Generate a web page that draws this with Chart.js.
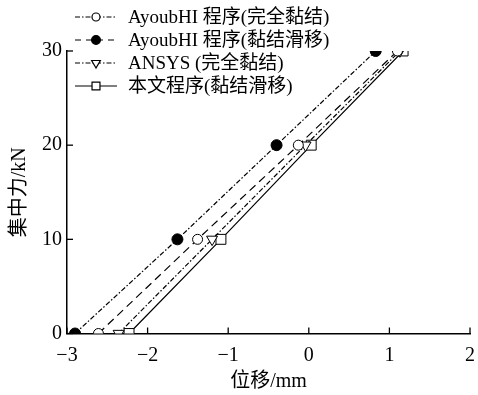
<!DOCTYPE html>
<html>
<head>
<meta charset="utf-8">
<script src="https://cdn.jsdelivr.net/npm/chart.js@4.4.0/dist/chart.umd.min.js"></script>
<style>
  html, body { margin: 0; padding: 0; background: #fff; }
  #wrap { width: 478px; height: 395px; }
</style>
</head>
<body>
<div id="wrap"><canvas id="loadChart"></canvas></div>
<script>
// load levels (kN) and displacement (mm)
let loads = [0, 10, 20, 30];
let ayoubFull = [-2.61, -1.38, -0.13, 1.10];
let ayoubSlip = [-2.90, -1.63, -0.40, 0.83];
let ansysFull = [-2.36, -1.20, -0.04, 1.13];
let ourSlip = [-2.23, -1.09, 0.03, 1.17];
let seriesNames = ['AyoubHI 程序(完全黏结)', 'AyoubHI 程序(黏结滑移)', 'ANSYS (完全黏结)', '本文程序(黏结滑移)'];
let xTicks = [-3, -2, -1, 0, 1, 2];
let yTicks = [0, 10, 20, 30];

const FONT = '"Liberation Serif", "Noto Sans CJK SC", serif';

function toPoints(xs) {
    return xs.map((x, i) => ({ x: x, y: loads[i] }));
}

function fmt(v) {
    return v < 0 ? '\u2212' + (-v) : String(v);
}

// ticks point into the plot, like the original
const innerTicks = {
    id: 'innerTicks',
    afterDraw(chart) {
        const ctx = chart.ctx;
        const xs = chart.scales.x, ys = chart.scales.y;
        ctx.save();
        ctx.strokeStyle = '#000';
        ctx.lineWidth = 1.3;
        xTicks.forEach(v => {
            const px = xs.getPixelForValue(v);
            ctx.beginPath();
            ctx.moveTo(px, ys.bottom);
            ctx.lineTo(px, ys.bottom - 6);
            ctx.stroke();
        });
        yTicks.forEach(v => {
            const py = ys.getPixelForValue(v);
            ctx.beginPath();
            ctx.moveTo(xs.left, py);
            ctx.lineTo(xs.left + 6, py);
            ctx.stroke();
        });
        ctx.restore();
    }
};

// legend: short line sample with the marker in its middle
const sampleLegend = {
    id: 'sampleLegend',
    afterDraw(chart, args, opts) {
        const ctx = chart.ctx;
        ctx.save();
        chart.data.datasets.forEach((ds, i) => {
            const y = opts.top + i * opts.rowGap;
            ctx.strokeStyle = '#000';
            ctx.lineWidth = 1.2;
            ctx.setLineDash(opts.dashes[i]);
            ctx.beginPath();
            ctx.moveTo(opts.x0, y);
            ctx.lineTo(opts.x1, y);
            ctx.stroke();
            ctx.setLineDash([]);
            ctx.fillStyle = ds.pointBackgroundColor;
            ctx.strokeStyle = '#000';
            Chart.helpers.drawPoint(ctx, {
                pointStyle: ds.pointStyle,
                radius: ds.pointRadius * 0.8,
                rotation: ds.pointRotation || 0,
                borderWidth: 1
            }, (opts.x0 + opts.x1) / 2, y);
            ctx.fillStyle = '#000';
            ctx.font = opts.fontSize + 'px ' + FONT;
            ctx.textBaseline = 'middle';
            ctx.textAlign = 'left';
            ctx.fillText(ds.label, opts.textX, y + 1);
        });
        ctx.restore();
    }
};

function makeSet(label, xs, style, radius, fill, dash, rot) {
    return {
        label: label,
        data: toPoints(xs),
        borderColor: '#000',
        borderWidth: 1.2,
        borderDash: dash,
        pointStyle: style,
        pointRadius: radius,
        pointRotation: rot || 0,
        pointBackgroundColor: fill,
        pointBorderColor: '#000',
        pointBorderWidth: 1,
        showLine: true,
        fill: false,
        tension: 0
    };
}

const ctx = document.getElementById('loadChart').getContext('2d');
const chart = new Chart(ctx, {
    type: 'scatter',
    data: {
        datasets: [
            makeSet(seriesNames[0], ayoubFull, 'circle', 5, '#fff', [8, 5]),
            makeSet(seriesNames[1], ayoubSlip, 'circle', 5.5, '#000', [5, 2, 1.5, 2]),
            makeSet(seriesNames[2], ansysFull, 'triangle', 6.3, '#fff', [5, 2, 1.5, 2], 180),
            makeSet(seriesNames[3], ourSlip, 'rect', 7, '#fff', [])
        ]
    },
    options: {
        responsive: true,
        maintainAspectRatio: false,
        animation: false,
        layout: { padding: { top: 51, right: 3, left: 0, bottom: 0 } },
        plugins: {
            legend: { display: false },
            tooltip: { enabled: false },
            sampleLegend: {
                x0: 75, x1: 117, textX: 128, top: 17, rowGap: 23, fontSize: 19,
                dashes: [[5, 2, 1.5, 2], [6, 5], [5, 2, 1.5, 2], []]
            }
        },
        scales: {
            x: {
                type: 'linear',
                min: -3, max: 2,
                afterFit: s => { s.height = 61.5; s.paddingRight = 0; s.paddingLeft = 0; },
                grid: { display: false, drawTicks: false },
                border: { display: true, color: '#000', width: 1.5 },
                ticks: {
                    stepSize: 1, padding: 10, color: '#000',
                    font: { family: FONT, size: 20 },
                    callback: v => fmt(v)
                },
                title: {
                    display: true, text: '位移/mm', color: '#000',
                    font: { family: FONT, size: 20 }, padding: { top: 0, bottom: 1 }
                }
            },
            y: {
                type: 'linear',
                min: 0, max: 30,
                afterFit: s => { s.width = 67; s.paddingTop = 0; s.paddingBottom = 0; },
                grid: { display: false, drawTicks: false },
                border: { display: true, color: '#000', width: 1.5 },
                ticks: {
                    stepSize: 10, padding: 5, color: '#000',
                    font: { family: FONT, size: 20 },
                    callback: v => fmt(v)
                },
                title: {
                    display: true, text: '集中力/kN', color: '#000',
                    font: { family: FONT, size: 20 }, padding: { top: 8, bottom: 0 }
                }
            }
        }
    },
    plugins: [innerTicks, sampleLegend]
});
</script>
</body>
</html>
